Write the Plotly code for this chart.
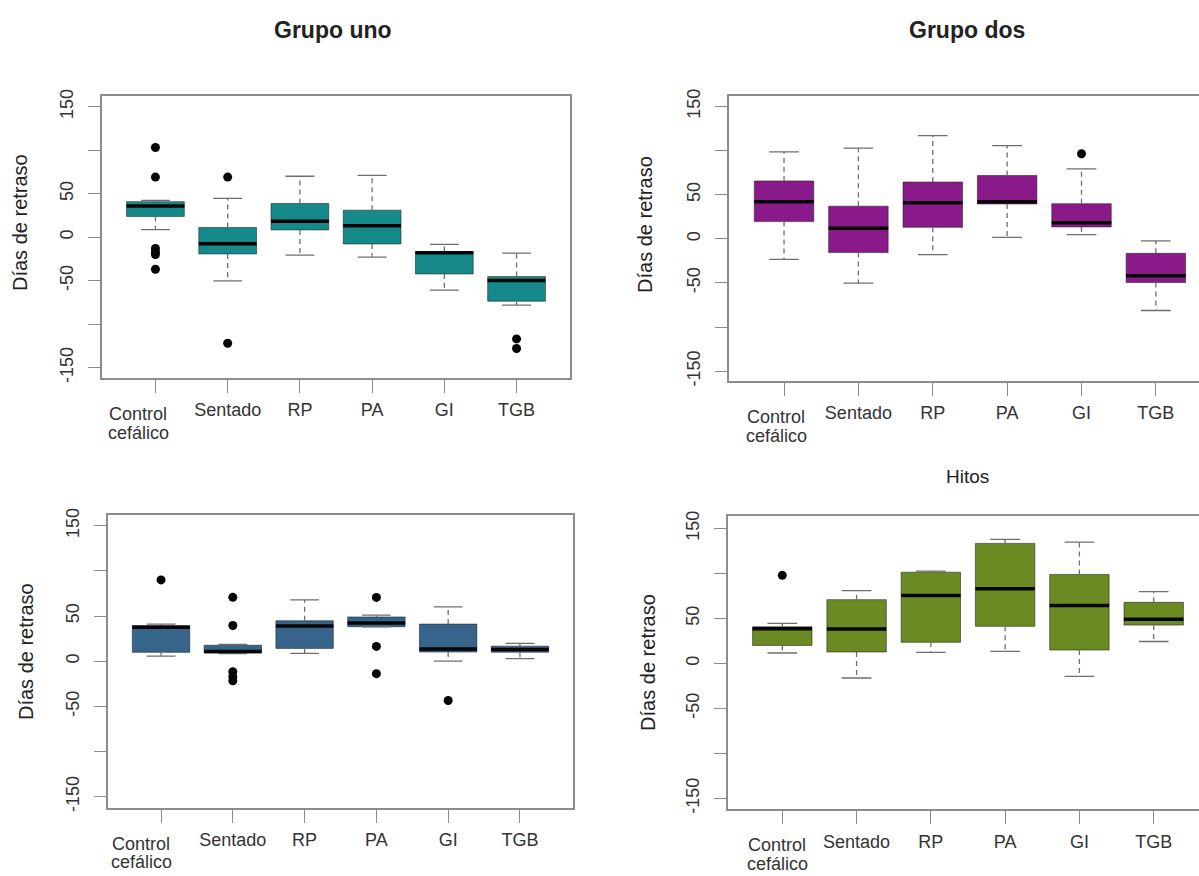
import plotly.graph_objects as go

# ---------------- data ----------------
categories = ["Control cefálico", "Sentado", "RP", "PA", "GI", "TGB"]
y_tick_values = [-150, -100, -50, 0, 50, 100, 150]
y_tick_labels = ["-150", "", "-50", "0", "50", "", "150"]

panel_titles = ["Grupo uno", "Grupo dos", "", "Hitos"]
y_title = "Días de retraso"

# Grupo uno
g1_low = [8.7, -50.3, -20.8, -23.0, -60.9, -78.3]
g1_q1 = [23.8, -19.3, 8.3, -7.9, -42.3, -73.7]
g1_med = [35.9, -7.6, 18.1, 13.2, -18.1, -49.9]
g1_q3 = [40.8, 11.0, 38.6, 31.0, -16.6, -45.4]
g1_high = [42.3, 44.6, 70.0, 71.0, -8.3, -18.5]
g1_out_cat = ["Control cefálico"] * 6 + ["Sentado"] * 2 + ["TGB"] * 2
g1_out_val = [103, 69, -13, -17, -20, -37, 69, -122, -117, -128]

# Grupo dos
g2_low = [-23.2, -50.2, -17.9, 1.7, 4.7, -81.3]
g2_q1 = [19.5, -15.6, 13.0, 39.5, 13.5, -49.5]
g2_med = [42.0, 11.9, 40.9, 42.0, 18.2, -41.8]
g2_q3 = [65.7, 37.0, 64.4, 71.8, 39.8, -16.5]
g2_high = [98.6, 102.8, 116.9, 105.7, 79.3, -2.4]
g2_out_cat = ["GI"]
g2_out_val = [96.4]

# Tercer panel
g3_low = [5.7, 8.5, 8.7, 38.0, 0.0, 2.9]
g3_q1 = [9.8, 9.1, 14.2, 38.2, 10.2, 10.0]
g3_med = [37.7, 10.8, 39.0, 42.2, 13.6, 13.1]
g3_q3 = [39.4, 17.7, 44.8, 49.0, 41.1, 16.7]
g3_high = [41.1, 18.5, 68.0, 51.0, 60.1, 19.7]
g3_out_cat = ["Control cefálico"] + ["Sentado"] * 5 + ["PA"] * 3 + ["GI"]
g3_out_val = [90, 70.7, 39.6, -11.7, -17.1, -21.7, 70.6, 16.4, -13.8, -43.5]

# Hitos
g4_low = [11.7, -16.1, 12.4, 13.5, -14.2, 24.5]
g4_q1 = [20.1, 12.8, 23.6, 41.3, 15.0, 42.7]
g4_med = [38.7, 38.5, 75.5, 83.0, 64.5, 49.2]
g4_q3 = [40.9, 71.0, 101.5, 133.5, 99.0, 68.0]
g4_high = [44.6, 81.0, 102.7, 138.0, 135.0, 80.0]
g4_out_cat = ["Control cefálico"]
g4_out_val = [98]

groups = [
    (g1_low, g1_q1, g1_med, g1_q3, g1_high, g1_out_cat, g1_out_val),
    (g2_low, g2_q1, g2_med, g2_q3, g2_high, g2_out_cat, g2_out_val),
    (g3_low, g3_q1, g3_med, g3_q3, g3_high, g3_out_cat, g3_out_val),
    (g4_low, g4_q1, g4_med, g4_q3, g4_high, g4_out_cat, g4_out_val),
]

# ---------------- style / layout ----------------
W, H = 1199, 876
colors = ["#168a8a", "#8a1a8a", "#36648b", "#698b22"]
panels = [
    dict(px=(102, 570, 90, 376), xr=(0.26, 6.74), yr=(-161.8, 162.5), yt=(20, 219), shift=17, mirror=True),
    dict(px=(729, 1199, 90, 379), xr=(0.26, 6.58), yr=(-161.0, 162.2), yt=(645, 221), shift=8, mirror=False),
    dict(px=(107.7, 573.3, 515, 811.7), xr=(0.257, 6.743), yr=(-162.0, 161.9), yt=(26, 654), shift=20, mirror=True),
    dict(px=(727.7, 1199, 516, 813.3), xr=(0.265, 6.61), yr=(-161.8, 164.0), yt=(648, 665), shift=5, mirror=False),
]
title_pos = [(333, 23), (967, 23), None, (967, 476)]
title_bold = [True, True, False, False]

FONT = "Liberation Sans, Arial, sans-serif"
TICK_FONT = dict(family=FONT, size=18, color="#333333")
LINE_C = "#8c8c8c"
LABEL_GAP = 36      # px from plot bottom to first label line centre
LINE_STEP = 19      # px between label lines

pos = list(range(1, len(categories) + 1))
cat_index = {c: i + 1 for i, c in enumerate(categories)}

fig = go.Figure()
annotations = []

for k, (grp, pnl) in enumerate(zip(groups, panels)):
    low, q1, med, q3, high, out_cat, out_val = grp
    xa = "x" if k == 0 else f"x{k + 1}"
    ya = "y" if k == 0 else f"y{k + 1}"
    col = colors[k]

    fig.add_trace(go.Box(
        x=pos, q1=q1, median=med, q3=q3, lowerfence=q1, upperfence=q3,
        width=0.8, whiskerwidth=0, fillcolor=col,
        line=dict(color="rgba(30,30,30,0.55)", width=1),
        boxpoints=False, showlegend=False, hoverinfo="skip",
        xaxis=xa, yaxis=ya,
    ))

    wx, wy = [], []
    for i, p in enumerate(pos):
        wx += [p, p, None, p, p, None]
        wy += [q3[i], high[i], None, q1[i], low[i], None]
    fig.add_trace(go.Scatter(x=wx, y=wy, mode="lines",
                             line=dict(color="#6e6e6e", width=1.3, dash="5px,4px"),
                             showlegend=False, hoverinfo="skip", xaxis=xa, yaxis=ya))
    cx, cy = [], []
    for i, p in enumerate(pos):
        cx += [p - 0.2, p + 0.2, None, p - 0.2, p + 0.2, None]
        cy += [high[i], high[i], None, low[i], low[i], None]
    fig.add_trace(go.Scatter(x=cx, y=cy, mode="lines",
                             line=dict(color="#6e6e6e", width=1.3),
                             showlegend=False, hoverinfo="skip", xaxis=xa, yaxis=ya))
    mx, my = [], []
    for i, p in enumerate(pos):
        mx += [p - 0.4, p + 0.4, None]
        my += [med[i], med[i], None]
    fig.add_trace(go.Scatter(x=mx, y=my, mode="lines",
                             line=dict(color="#050505", width=3.5),
                             showlegend=False, hoverinfo="skip", xaxis=xa, yaxis=ya))
    fig.add_trace(go.Scatter(x=[cat_index[c] for c in out_cat], y=out_val, mode="markers",
                             marker=dict(color="#050505", size=9),
                             showlegend=False, hoverinfo="skip", xaxis=xa, yaxis=ya))

    x0, x1, yt, yb = pnl["px"]
    ticktext = [c if " " not in c else "" for c in categories]
    for c in categories:
        if " " in c:
            for j, word in enumerate(c.split(" ")):
                annotations.append(dict(
                    text=word, xref=xa, yref="paper", x=cat_index[c],
                    y=1 - (yb + LABEL_GAP + j * LINE_STEP) / H,
                    xanchor="center", yanchor="middle", xshift=-pnl["shift"],
                    height=17, borderpad=0,
                    showarrow=False, font=TICK_FONT))

    xkey = "xaxis" if k == 0 else f"xaxis{k + 1}"
    ykey = "yaxis" if k == 0 else f"yaxis{k + 1}"
    fig.update_layout(**{
        xkey: dict(domain=[x0 / W, x1 / W], range=list(pnl["xr"]), anchor=ya,
                   tickvals=pos, ticktext=ticktext, tickangle=0,
                   ticks="outside", ticklen=13, tickcolor=LINE_C, tickwidth=1.3,
                   ticklabelstandoff=2,
                   showline=True, linecolor=LINE_C, linewidth=2, mirror=True,
                   showgrid=False, zeroline=False, tickfont=TICK_FONT, fixedrange=True),
        ykey: dict(domain=[1 - yb / H, 1 - yt / H], range=list(pnl["yr"]), anchor=xa,
                   tickvals=y_tick_values, ticktext=y_tick_labels, tickangle=-90,
                   ticks="outside", ticklen=12, tickcolor=LINE_C, tickwidth=1.3,
                   ticklabelstandoff=8,
                   showline=True, linecolor=LINE_C, linewidth=2, mirror=pnl["mirror"],
                   showgrid=False, zeroline=False, tickfont=TICK_FONT, fixedrange=True),
    })

    annotations.append(dict(text=y_title, x=pnl["yt"][0] / W, y=1 - pnl["yt"][1] / H,
                            xref="paper", yref="paper", xanchor="center", yanchor="middle",
                            textangle=-90, showarrow=False,
                            font=dict(family=FONT, size=20, color="#222222")))
    if panel_titles[k] and title_pos[k]:
        t = panel_titles[k]
        if title_bold[k]:
            t = f"<b>{t}</b>"
        annotations.append(dict(text=t, x=title_pos[k][0] / W, y=1 - title_pos[k][1] / H,
                                xref="paper", yref="paper", xanchor="center", yanchor="middle",
                                showarrow=False,
                                font=dict(family=FONT, size=23 if title_bold[k] else 19,
                                          color="#222222")))

fig.update_layout(
    width=W, height=H, autosize=False,
    margin=dict(l=0, r=0, t=0, b=0),
    paper_bgcolor="white", plot_bgcolor="white",
    showlegend=False, annotations=annotations,
)

fig.write_html("out.html", config={"displayModeBar": False},
               post_script="document.body.style.margin='0';document.body.style.overflow='hidden';")
